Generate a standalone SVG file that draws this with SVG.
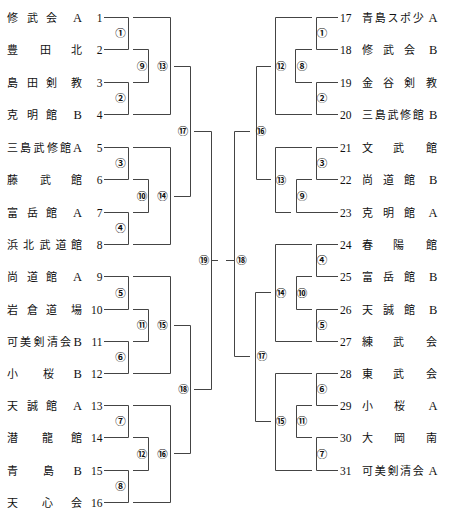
<svg xmlns="http://www.w3.org/2000/svg" width="450" height="517" viewBox="0 0 450 517">
<style>
.nm{font-family:"Liberation Serif","Noto Sans CJK JP",serif;font-size:11px;fill:#111}
.lt{font-size:12.5px}
.no{font-family:"Liberation Serif",serif;font-size:11.5px;fill:#111}
.l .no{text-anchor:end}
.c{font-family:"Noto Sans CJK JP",sans-serif;font-size:10.5px;font-weight:700;fill:#111;text-anchor:middle}
#connectors path{fill:none;stroke:#444;stroke-width:1}
</style>
<rect width="450" height="517" fill="#fff"/>
<g id="connectors">
<path d="M104 17.5H128.5V49.5H104M104 82.5H128.5V114.5H104M133 49.5H148.5V82.5H133M133 17.5H170.5V114.5H133"/>
<path d="M104 147.5H128.5V179.5H104M104 212.5H128.5V244.5H104M133 179.5H148.5V212.5H133M133 147.5H170.5V244.5H133"/>
<path d="M104 276.5H128.5V309.5H104M104 341.5H128.5V373.5H104M133 309.5H148.5V341.5H133M133 276.5H170.5V373.5H133"/>
<path d="M104 405.5H128.5V437.5H104M104 470.5H128.5V502.5H104M133 437.5H148.5V470.5H133M133 405.5H170.5V502.5H133"/>
<path d="M174 66.5H190.5V196.5H174M174 325.5H190.5V453.5H174M194 131.5H211.5V389.5H194"/>
<path d="M211.5 260.5H218M226 260.5H234.5"/>
<path d="M338 17.5H316.5V49.5H338M338 82.5H316.5V114.5H338M312 49.5H295.5V82.5H312M312 17.5H275.5V114.5H312"/>
<path d="M338 147.5H316.5V179.5H338M312 179.5H296.5V212.5H338M312 147.5H275.5V212.5H291"/>
<path d="M338 244.5H316.5V276.5H338M338 309.5H316.5V341.5H338M312 276.5H296.5V309.5H312M312 244.5H275.5V341.5H312"/>
<path d="M338 373.5H316.5V405.5H338M338 437.5H316.5V470.5H338M312 405.5H296.5V437.5H312M312 373.5H275.5V470.5H312"/>
<path d="M271 66.5H256.5V179.5H271M271 292.5H255.5V421.5H271M250 131.5H234.5V356.5H250"/>
</g>
<g class="l">
<g id="t1"><text class="nm" x="7 27 46" y="21.5">修武会<tspan class="lt" x="73">A</tspan></text><text class="no" x="102.5" y="21.5">1</text></g>
<g id="t2"><text class="nm" x="7 40 71" y="53.5">豊田北</text><text class="no" x="102.5" y="53.5">2</text></g>
<g id="t3"><text class="nm" x="7 27 46 71" y="86.5">島田剣教</text><text class="no" x="102.5" y="86.5">3</text></g>
<g id="t4"><text class="nm" x="7 27 46" y="118.5">克明館<tspan class="lt" x="73.5">B</tspan></text><text class="no" x="102.5" y="118.5">4</text></g>
<g id="t5"><text class="nm" x="7 20 33.5 47 60" y="151.5">三島武修館<tspan class="lt" x="73">A</tspan></text><text class="no" x="102.5" y="151.5">5</text></g>
<g id="t6"><text class="nm" x="7 40 71" y="183.5">藤武館</text><text class="no" x="102.5" y="183.5">6</text></g>
<g id="t7"><text class="nm" x="7 27 46" y="216.5">富岳館<tspan class="lt" x="73">A</tspan></text><text class="no" x="102.5" y="216.5">7</text></g>
<g id="t8"><text class="nm" x="7 23 39.5 55.5 71" y="248.5">浜北武道館</text><text class="no" x="102.5" y="248.5">8</text></g>
<g id="t9"><text class="nm" x="7 27 46" y="280.5">尚道館<tspan class="lt" x="73">A</tspan></text><text class="no" x="102.5" y="280.5">9</text></g>
<g id="t10"><text class="nm" x="7 27 46 71" y="313.5">岩倉道場</text><text class="no" x="102.5" y="313.5">10</text></g>
<g id="t11"><text class="nm" x="7 20 33.5 47 60" y="345.5">可美剣清会<tspan class="lt" x="73.5">B</tspan></text><text class="no" x="102.5" y="345.5">11</text></g>
<g id="t12"><text class="nm" x="7 43" y="377.5">小桜<tspan class="lt" x="73.5">B</tspan></text><text class="no" x="102.5" y="377.5">12</text></g>
<g id="t13"><text class="nm" x="7 27 46" y="409.5">天誠館<tspan class="lt" x="73">A</tspan></text><text class="no" x="102.5" y="409.5">13</text></g>
<g id="t14"><text class="nm" x="7 42 71" y="441.5">潜龍館</text><text class="no" x="102.5" y="441.5">14</text></g>
<g id="t15"><text class="nm" x="7 43" y="474.5">青島<tspan class="lt" x="73.5">B</tspan></text><text class="no" x="102.5" y="474.5">15</text></g>
<g id="t16"><text class="nm" x="7 42 71" y="506.5">天心会</text><text class="no" x="102.5" y="506.5">16</text></g>
</g>
<g class="r">
<g id="t17"><text class="no" x="340" y="21.5">17</text><text class="nm" x="362 374.7 387.4 400 412.7" y="21.5">青島スポ少<tspan class="lt" x="428.5">A</tspan></text></g>
<g id="t18"><text class="no" x="340" y="53.5">18</text><text class="nm" x="362 383 404" y="53.5">修武会<tspan class="lt" x="429">B</tspan></text></g>
<g id="t19"><text class="no" x="340" y="86.5">19</text><text class="nm" x="362 383 404 426" y="86.5">金谷剣教</text></g>
<g id="t20"><text class="no" x="340" y="118.5">20</text><text class="nm" x="362 374.7 387.4 400 412.7" y="118.5">三島武修館<tspan class="lt" x="429">B</tspan></text></g>
<g id="t21"><text class="no" x="340" y="151.5">21</text><text class="nm" x="362 393 426" y="151.5">文武館</text></g>
<g id="t22"><text class="no" x="340" y="183.5">22</text><text class="nm" x="362 383 404" y="183.5">尚道館<tspan class="lt" x="429">B</tspan></text></g>
<g id="t23"><text class="no" x="340" y="216.5">23</text><text class="nm" x="362 383 404" y="216.5">克明館<tspan class="lt" x="428.5">A</tspan></text></g>
<g id="t24"><text class="no" x="340" y="248.5">24</text><text class="nm" x="362 393 426" y="248.5">春陽館</text></g>
<g id="t25"><text class="no" x="340" y="280.5">25</text><text class="nm" x="362 383 404" y="280.5">富岳館<tspan class="lt" x="429">B</tspan></text></g>
<g id="t26"><text class="no" x="340" y="313.5">26</text><text class="nm" x="362 383 404" y="313.5">天誠館<tspan class="lt" x="429">B</tspan></text></g>
<g id="t27"><text class="no" x="340" y="345.5">27</text><text class="nm" x="362 393 426" y="345.5">練武会</text></g>
<g id="t28"><text class="no" x="340" y="377.5">28</text><text class="nm" x="362 393 426" y="377.5">東武会</text></g>
<g id="t29"><text class="no" x="340" y="409.5">29</text><text class="nm" x="362 394" y="409.5">小桜<tspan class="lt" x="428.5">A</tspan></text></g>
<g id="t30"><text class="no" x="340" y="441.5">30</text><text class="nm" x="362 394 426" y="441.5">大岡南</text></g>
<g id="t31"><text class="no" x="340" y="474.5">31</text><text class="nm" x="362 374.7 387.4 400 412.7" y="474.5">可美剣清会<tspan class="lt" x="428.5">A</tspan></text></g>
</g>
<g id="matches-left">
<text class="c" x="120.5" y="37">①</text>
<text class="c" x="120.5" y="102">②</text>
<text class="c" x="142" y="69.5">⑨</text>
<text class="c" x="162.5" y="69.5">⑬</text>
<text class="c" x="120.5" y="167">③</text>
<text class="c" x="120.5" y="232">④</text>
<text class="c" x="142" y="199.5">⑩</text>
<text class="c" x="162.5" y="199.5">⑭</text>
<text class="c" x="120.5" y="296.5">⑤</text>
<text class="c" x="120.5" y="361">⑥</text>
<text class="c" x="142" y="329">⑪</text>
<text class="c" x="162.5" y="329">⑮</text>
<text class="c" x="120.5" y="425">⑦</text>
<text class="c" x="120.5" y="490">⑧</text>
<text class="c" x="142" y="457.5">⑫</text>
<text class="c" x="162.5" y="457.5">⑯</text>
<text class="c" x="183" y="135">⑰</text>
<text class="c" x="183.5" y="393">⑱</text>
<text class="c" x="204" y="264">⑲</text>
</g>
<g id="matches-right">
<text class="c" x="322" y="37">①</text>
<text class="c" x="322" y="102">②</text>
<text class="c" x="302" y="69.5">⑧</text>
<text class="c" x="281" y="69.5">⑫</text>
<text class="c" x="322" y="167">③</text>
<text class="c" x="302" y="199.5">⑨</text>
<text class="c" x="281" y="183.5">⑬</text>
<text class="c" x="322" y="264">④</text>
<text class="c" x="322" y="329">⑤</text>
<text class="c" x="302" y="296.5">⑩</text>
<text class="c" x="281" y="296.5">⑭</text>
<text class="c" x="322" y="393">⑥</text>
<text class="c" x="322" y="457.5">⑦</text>
<text class="c" x="302" y="425">⑪</text>
<text class="c" x="281" y="425">⑮</text>
<text class="c" x="261" y="135">⑯</text>
<text class="c" x="262" y="360">⑰</text>
<text class="c" x="241.5" y="264">⑱</text>
</g>
</svg>
